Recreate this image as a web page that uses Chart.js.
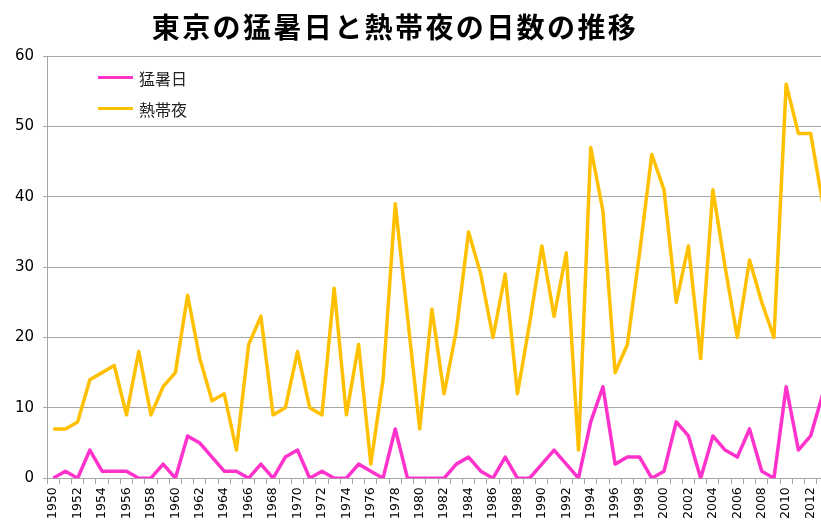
<!DOCTYPE html>
<html>
<head>
<meta charset="utf-8">
<script src="https://cdn.jsdelivr.net/npm/chart.js@4.4.1/dist/chart.umd.min.js"></script>
<style>
  html, body { margin: 0; padding: 0; background: #fff; overflow: hidden; }
  #wrap { position: relative; width: 821px; height: 524px; }
  #title { position: absolute; top: 6px; left: 0; width: 790px; text-align: center; line-height: 36px;
           font: bold 28px "Noto Sans CJK JP"; letter-spacing: 2.4px; color: #000; }
  #legend { position: absolute; left: 98px; top: 62px; font: 16px "Noto Sans CJK JP"; color: #222; }
  .item { display: flex; align-items: center; height: 31px; }
  .swatch { width: 35px; height: 3px; margin-right: 6px; }
</style>
</head>
<body>
<div id="wrap">
  <canvas id="chart" width="821" height="524"></canvas>
  <div id="title">東京の猛暑日と熱帯夜の日数の推移</div>
  <div id="legend"></div>
</div>
<script>
// years (x categories)
const years = [
  1950, 1951, 1952, 1953, 1954, 1955, 1956, 1957, 1958, 1959,
  1960, 1961, 1962, 1963, 1964, 1965, 1966, 1967, 1968, 1969,
  1970, 1971, 1972, 1973, 1974, 1975, 1976, 1977, 1978, 1979,
  1980, 1981, 1982, 1983, 1984, 1985, 1986, 1987, 1988, 1989,
  1990, 1991, 1992, 1993, 1994, 1995, 1996, 1997, 1998, 1999,
  2000, 2001, 2002, 2003, 2004, 2005, 2006, 2007, 2008, 2009,
  2010, 2011, 2012, 2013
];

// 猛暑日 (days >= 35C)
const moushobi = [
  0, 1, 0, 4, 1, 1, 1, 0, 0, 2,
  0, 6, 5, 3, 1, 1, 0, 2, 0, 3,
  4, 0, 1, 0, 0, 2, 1, 0, 7, 0,
  0, 0, 0, 2, 3, 1, 0, 3, 0, 0,
  2, 4, 2, 0, 8, 13, 2, 3, 3, 0,
  1, 8, 6, 0, 6, 4, 3, 7, 1, 0,
  13, 4, 6, 12
];

// 熱帯夜 (tropical nights)
const nettaiya = [
  7, 7, 8, 14, 15, 16, 9, 18, 9, 13,
  15, 26, 17, 11, 12, 4, 19, 23, 9, 10,
  18, 10, 9, 27, 9, 19, 2, 14, 39, 23,
  7, 24, 12, 21, 35, 29, 20, 29, 12, 22,
  33, 23, 32, 4, 47, 38, 15, 19, 32, 46,
  41, 25, 33, 17, 41, 30, 20, 31, 25, 20,
  56, 49, 49, 39
];

const yTicks = [0, 10, 20, 30, 40, 50, 60];

const gridGray = '#A6A6A6';
const toPoints = vals => years.map((yr, i) => ({ x: yr, y: vals[i] }));

const ctx = document.getElementById('chart').getContext('2d');
const chart = new Chart(ctx, {
    type: 'line',
    data: {
        datasets: [{
            label: '猛暑日',
            data: toPoints(moushobi),
            borderColor: '#FF33CC',
            borderWidth: 3.5,
            borderJoinStyle: 'round',
            pointRadius: 0,
            tension: 0
        }, {
            label: '熱帯夜',
            data: toPoints(nettaiya),
            borderColor: '#FFC000',
            borderWidth: 3.5,
            borderJoinStyle: 'round',
            pointRadius: 0,
            tension: 0
        }]
    },
    options: {
        responsive: false,
        animation: false,
        layout: { padding: { top: 56, left: 6, right: 0, bottom: 2 } },
        plugins: {
            legend: { display: false },
            tooltip: { enabled: false }
        },
        scales: {
            x: {
                type: 'linear',
                min: 1949.5,
                max: 2012.85,
                afterBuildTicks: axis => {
                    axis.ticks = years.filter(y => y <= axis.max).map(v => ({ value: v }));
                },
                // plot runs right to the page edge, like the cropped original
                afterFit: axis => {
                    axis.paddingLeft = 0;
                    axis.paddingRight = 0;
                },
                grid: { offset: true, drawOnChartArea: false, color: gridGray, tickLength: 6 },
                border: { color: gridGray },
                ticks: {
                    autoSkip: false,
                    minRotation: 90,
                    maxRotation: 90,
                    padding: 3,
                    color: '#000',
                    font: { family: 'DejaVu Sans', size: 12.5 },
                    callback: v => (v % 2 === 0 ? String(v) : '')
                }
            },
            y: {
                min: 0,
                max: 60,
                afterBuildTicks: axis => {
                    axis.ticks = yTicks.map(v => ({ value: v }));
                },
                grid: { color: gridGray, tickLength: 4 },
                border: { color: gridGray },
                ticks: {
                    padding: 9,
                    color: '#000',
                    font: { family: 'DejaVu Sans', size: 15 }
                }
            }
        }
    }
});

// legend inside the plot, built from the datasets
const legendEl = document.getElementById('legend');
chart.data.datasets.forEach(ds => {
    const item = document.createElement('div');
    item.className = 'item';
    const sw = document.createElement('span');
    sw.className = 'swatch';
    sw.style.background = ds.borderColor;
    const txt = document.createElement('span');
    txt.textContent = ds.label;
    item.appendChild(sw);
    item.appendChild(txt);
    legendEl.appendChild(item);
});
</script>
</body>
</html>
